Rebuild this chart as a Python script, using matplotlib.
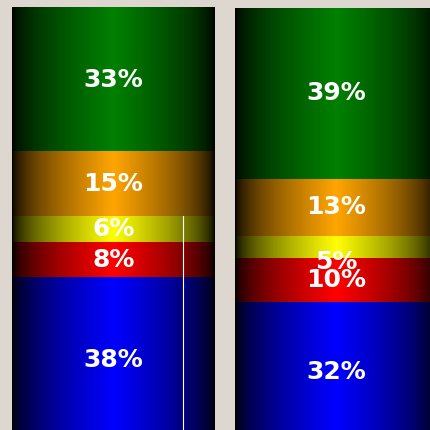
import numpy as np
import matplotlib
matplotlib.use("Agg")
import matplotlib.pyplot as plt

# data, bottom -> top
segments = ["Blue", "Red", "Yellow", "Orange", "Green"]
bar_a = [38, 8, 6, 15, 33]
bar_b = [32, 10, 5, 13, 39]
seg_colors = [(0, 0, 1), (1, 0, 0), (1, 1, 0), (1, 0.647, 0), (0, 0.502, 0)]

fig = plt.figure(figsize=(4.31, 4.30), dpi=100)
fig.patch.set_facecolor("#ddd7cf")
ax = fig.add_axes([0, 0, 1, 1])
ax.set_facecolor("#ddd7cf")

width = 0.91
n = 256
prof = (1 - np.abs(np.linspace(-1, 1, n))) ** 0.6  # dark edges, bright middle

for xi, vals in enumerate([bar_a, bar_b]):
    vals = np.array(vals, dtype=float)
    pct = vals / vals.sum() * 100
    bottom = 0.0
    for v, p, c in zip(vals, pct, seg_colors):
        img = prof[None, :, None] * np.array(c)[None, None, :]
        ax.imshow(img, extent=[xi - width / 2, xi + width / 2, bottom, bottom + p],
                  aspect="auto", interpolation="bilinear", zorder=2)
        # small segments get their label pushed just below the lower edge
        ty = bottom - 1.0 if v < 6 else bottom + p / 2
        ax.text(xi, ty, f"{int(v)}%", color="white", fontsize=18, fontweight="bold",
                ha="center", va="center", zorder=4)
        bottom += p

# thin white guide line in the first bar
ax.plot([0.312, 0.312], [0, sum(bar_a[:3])], color="white", lw=0.8, zorder=3)

ax.set_xlim(-0.509, 1.424)
ax.set_ylim(2.76, 101.84)
ax.axis("off")

fig.savefig("out.png", dpi=100, facecolor=fig.get_facecolor())
